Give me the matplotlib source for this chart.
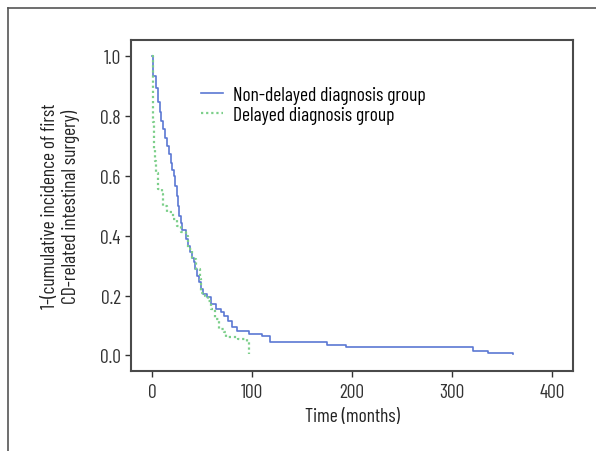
import matplotlib
matplotlib.use("Agg")
import matplotlib.pyplot as plt
from matplotlib.lines import Line2D

plt.rcParams['font.family'] = ['Barlow Condensed', 'Fira Sans Condensed', 'DejaVu Sans']

# Step curves: event times (months) and value after each step
time_nondelayed = [0, 0.5, 1, 3.4, 5.3, 7.2, 9, 11, 13, 14.8, 16.5, 18.6, 20, 21.7, 23,
                   24.3, 25.5, 27, 28.5, 30, 33.8, 35.5, 37.6, 39.5, 41.4, 43, 45, 46.5,
                   48.3, 51, 54.8, 58.6, 64, 69, 72, 75.7, 79.5, 85, 96.6, 110, 117.5,
                   174.5, 194, 321, 336, 361]
surv_nondelayed = [1.0, 0.952, 0.935, 0.896, 0.846, 0.813, 0.785, 0.757, 0.728, 0.70,
                   0.672, 0.645, 0.62, 0.60, 0.567, 0.534, 0.50, 0.467, 0.443, 0.42,
                   0.389, 0.366, 0.344, 0.327, 0.311, 0.288, 0.266, 0.244, 0.222, 0.205,
                   0.194, 0.172, 0.155, 0.144, 0.133, 0.116, 0.094, 0.082, 0.071, 0.066,
                   0.043, 0.035, 0.027, 0.016, 0.008, 0.004]

time_delayed = [0, 0.3, 0.8, 1.5, 2.5, 3.4, 5.3, 9.1, 11, 14.8, 20.5, 24.3, 28.1, 33.8,
                35.7, 39.5, 43.3, 47.1, 49, 52.9, 55.9, 58.6, 62.4, 66.2, 71.9, 73.8,
                85.2, 94.7, 96.6]
surv_delayed = [1.0, 0.913, 0.78, 0.69, 0.65, 0.61, 0.556, 0.54, 0.50, 0.478, 0.456,
                0.434, 0.411, 0.40, 0.356, 0.322, 0.289, 0.255, 0.21, 0.20, 0.183,
                0.155, 0.122, 0.088, 0.077, 0.06, 0.055, 0.046, 0.005]

x_ticks = [0, 100, 200, 300, 400]
y_ticks = [0.0, 0.2, 0.4, 0.6, 0.8, 1.0]

fig = plt.figure(figsize=(5.96, 4.52), dpi=100)
ax = fig.add_axes([0.2198, 0.177, 0.7416, 0.732])

ax.step(time_nondelayed, surv_nondelayed, where='post', color='#5b78d3', lw=1.2,
        label='Non-delayed diagnosis group')
ax.step(time_delayed, surv_delayed, where='post', color='#7ccf8a', lw=1.6,
        ls=(0, (1, 1.3)), label='Delayed diagnosis group')

ax.set_xlim(-21.5, 421)
ax.set_ylim(-0.0525, 1.0545)
ax.set_xticks(x_ticks)
ax.set_yticks(y_ticks)
ax.set_yticklabels([f"{v:.1f}" for v in y_ticks])

for s in ax.spines.values():
    s.set_color('#4a4a4a')
    s.set_linewidth(1.5)
ax.tick_params(colors='#333333', labelsize=14, length=4, width=1, direction='out')
ax.tick_params(axis='x', pad=5)
ax.tick_params(axis='y', pad=3.5)

ax.set_xlabel('Time (months)', fontsize=14, color='#222222', labelpad=4)
ax.set_ylabel('1-(cumulative incidence of first\nCD-related intestinal surgery)',
              fontsize=14, color='#222222', labelpad=14, linespacing=1.15)

ax.legend(loc='upper left', bbox_to_anchor=(0.158, 0.861), frameon=False, fontsize=14,
          handlelength=1.15, handletextpad=0.5, labelspacing=0.1, borderaxespad=0,
          borderpad=0)

# outer frame lines (top and left edges of the figure panel)
fig.add_artist(Line2D([8 / 596, 1], [1 - 9 / 452, 1 - 9 / 452], color='#555555', lw=1.2))
fig.add_artist(Line2D([8 / 596, 8 / 596], [0, 1 - 9 / 452], color='#555555', lw=1.2))

plt.savefig('out.png', dpi=100)
